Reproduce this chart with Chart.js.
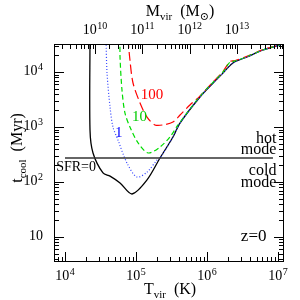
<!DOCTYPE html>
<html>
<head>
<meta charset="utf-8">
<script src="https://cdn.jsdelivr.net/npm/chart.js@4"></script>
<style>
  html, body { margin: 0; padding: 0; background: #fff; }
  #wrap { width: 300px; height: 300px; }
</style>
</head>
<body>
<div id="wrap"><canvas id="coolChart"></canvas></div>
<script>
// Cooling time vs virial temperature, z=0

// SFR = 0 (black solid)
const sfr0Temp = [2.25e4, 2.25e4, 2.48e4, 3.43e4, 4.31e4, 5.96e4, 8.79e4, 1.43e5, 2.18e5, 3.32e5, 4.17e5, 7.96e5, 1.22e6, 1.68e6, 2.32e6, 3.66e6, 6.15e6, 1.07e7];
const sfr0Tcool = [4.0e4, 880, 337, 146, 128, 96, 60.5, 109, 273, 658, 1180, 3510, 6310, 9550, 14600, 18750, 25100, 30900];

// SFR = 1 (blue dotted)
const sfr1Temp = [3.78e4, 3.91e4, 4.31e4, 4.74e4, 5.57e4, 7.46e4, 1.03e5, 1.43e5, 1.98e5, 2.18e5, 3.32e5, 4.17e5, 7.96e5, 1.22e6, 1.68e6, 2.32e6, 3.66e6, 6.15e6, 1.07e7];
const sfr1Tcool = [4.0e4, 9550, 2310, 1000, 581, 221, 123, 151, 251, 273, 658, 1180, 3510, 6310, 9550, 14600, 18750, 25100, 30900];

// SFR = 10 (green dashed)
const sfr10Temp = [5.96e4, 5.96e4, 6.35e4, 7.0e4, 8.22e4, 1.07e5, 1.48e5, 2.18e5, 3.01e5, 3.91e5, 7.96e5, 1.22e6, 1.68e6, 2.11e6, 2.45e6, 3.66e6, 6.15e6, 1.07e7];
const sfr10Tcool = [4.0e4, 18600, 4680, 1780, 1000, 513, 337, 432, 658, 1090, 3600, 6500, 10000, 15200, 15800, 19000, 25300, 31000];

// SFR = 100 (red long dashed)
const sfr100Temp = [7.71e4, 8.22e4, 9.08e4, 1.14e5, 1.43e5, 1.85e5, 2.40e5, 3.32e5, 4.17e5, 5.75e5, 7.96e5, 1.22e6, 1.68e6, 2.11e6, 2.45e6, 3.66e6, 6.15e6, 1.07e7];
const sfr100Tcool = [4.0e4, 16500, 6310, 2730, 1510, 1090, 1090, 1230, 1650, 2510, 3650, 6600, 10200, 15500, 16000, 19200, 25500, 31200];

// hot / cold mode divide
const divideTemp = [1.0e4, 8.5e6];
const divideTcool = [273, 273];

// axis ticks
const tempTicks = [1e4, 1e5, 1e6, 1e7];
const tcoolTicks = [10, 100, 1000, 10000];
const massTicks = [1e10, 1e11, 1e12, 1e13];

const SERIF = "'Liberation Serif', 'DejaVu Serif', serif";

function zip(xs, ys) {
  return xs.map((x, i) => ({ x: x, y: ys[i] }));
}

// draws "10" with a raised exponent, anchored by align at (x, y middle)
function drawPow(ctx, v, x, y, align) {
  const e = Math.round(Math.log10(v));
  const base = "10";
  const exp = e === 1 ? "" : String(e);
  ctx.font = "14px " + SERIF;
  const wb = ctx.measureText(base).width;
  ctx.font = "10px " + SERIF;
  const we = exp ? ctx.measureText(exp).width + 0.5 : 0;
  const w = wb + we;
  let x0 = x - w / 2;
  if (align === "right") x0 = x - w;
  ctx.textAlign = "left";
  ctx.textBaseline = "alphabetic";
  ctx.font = "14px " + SERIF;
  ctx.fillText(base, x0, y + 5);
  if (exp) {
    ctx.font = "10px " + SERIF;
    ctx.fillText(exp, x0 + wb + 0.5, y);
  }
}

// inward ticks, frame, tick labels and annotation text
const framePlugin = {
  id: "frame",
  afterDraw(chart) {
    const ctx = chart.ctx;
    const a = chart.chartArea;
    const xs = chart.scales.x;
    const ys = chart.scales.y;
    const ms = chart.scales.x2;
    ctx.save();
    ctx.strokeStyle = "#000";
    ctx.lineWidth = 1;
    ctx.strokeRect(a.left + 0.5, a.top + 0.5, a.right - a.left - 1, a.bottom - a.top - 1);

    function logTicks(scale, cb) {
      const lo = Math.floor(Math.log10(scale.min));
      const hi = Math.ceil(Math.log10(scale.max));
      for (let n = lo; n <= hi; n++) {
        for (let m = 1; m <= 9; m++) {
          const v = m * Math.pow(10, n);
          if (v < scale.min || v > scale.max) continue;
          cb(Math.round(scale.getPixelForValue(v)) + 0.5, m === 1 ? 10 : 5);
        }
      }
    }
    ctx.beginPath();
    logTicks(xs, (px, len) => {
      ctx.moveTo(px, a.bottom);
      ctx.lineTo(px, a.bottom - len);
    });
    logTicks(ms, (px, len) => {
      ctx.moveTo(px, a.top);
      ctx.lineTo(px, a.top + len);
    });
    logTicks(ys, (py, len) => {
      ctx.moveTo(a.left, py);
      ctx.lineTo(a.left + len, py);
      ctx.moveTo(a.right, py);
      ctx.lineTo(a.right - len, py);
    });
    ctx.stroke();

    // tick labels
    ctx.fillStyle = "#000";
    tempTicks.forEach((v) => drawPow(ctx, v, xs.getPixelForValue(v), a.bottom + 13, "center"));
    massTicks.forEach((v) => drawPow(ctx, v, ms.getPixelForValue(v), a.top - 15, "center"));
    tcoolTicks.forEach((v) => drawPow(ctx, v, a.left - 11, ys.getPixelForValue(v) - 2, "right"));

    // axis titles with sub/superscripts
    function titleRuns(runs, x, y) {
      let w = 0;
      runs.forEach((r) => {
        ctx.font = r[1] + "px " + SERIF;
        w += ctx.measureText(r[0]).width;
      });
      let cx = x - w / 2;
      runs.forEach((r) => {
        ctx.font = r[1] + "px " + SERIF;
        ctx.fillText(r[0], cx, y + r[2]);
        cx += ctx.measureText(r[0]).width;
      });
    }
    ctx.textBaseline = "alphabetic";
    ctx.textAlign = "left";
    titleRuns([["T", 16, 0], ["vir", 11, 4], ["  (K)", 16, 0]], 170, 294);
    titleRuns([["M", 16, 0], ["vir", 11, 4], ["  (M", 16, 0], ["⊙", 11, 4], [")", 16, 0]], 180, 16);
    ctx.save();
    ctx.translate(22, 148);
    ctx.rotate(-Math.PI / 2);
    titleRuns([["t", 16, 0], ["cool", 11, 4], ["  (Myr)", 16, 0]], 0, 0);
    ctx.restore();

    // curve labels
    function label(text, color, t, tc, size, align) {
      ctx.font = size + "px " + SERIF;
      ctx.fillStyle = color;
      ctx.textAlign = align;
      ctx.textBaseline = "middle";
      ctx.fillText(text, xs.getPixelForValue(t), ys.getPixelForValue(tc));
    }
    label("100", "#ff0000", 1.17e5, 3800, 15, "left");
    label("10", "#00cc00", 8.8e4, 1500, 15, "left");
    label("1", "#0000ff", 5.7e4, 760, 15, "center");
    label("SFR=0", "#000", 7.5e3, 185, 14, "left");
    label("hot", "#000", 9.5e6, 620, 16, "right");
    label("mode", "#000", 9.5e6, 385, 16, "right");
    label("cold", "#000", 9.5e6, 158, 16, "right");
    label("mode", "#000", 9.5e6, 95, 16, "right");
    label("z=0", "#000", 3.0e6, 10, 17, "left");
    ctx.restore();
  },
};

new Chart(document.getElementById("coolChart"), {
  type: "line",
  data: {
    datasets: [
      {
        label: "divide",
        data: zip(divideTemp, divideTcool),
        borderColor: "#333",
        borderWidth: 1.5,
        pointRadius: 0,
      },
      {
        label: "SFR=1",
        data: zip(sfr1Temp, sfr1Tcool),
        borderColor: "#3344ff",
        borderWidth: 1.2,
        borderDash: [1, 2],
        pointRadius: 0,
        tension: 0.3,
      },
      {
        label: "SFR=10",
        data: zip(sfr10Temp, sfr10Tcool),
        borderColor: "#00dd00",
        borderWidth: 1.2,
        borderDash: [5, 3],
        pointRadius: 0,
        tension: 0.3,
      },
      {
        label: "SFR=100",
        data: zip(sfr100Temp, sfr100Tcool),
        borderColor: "#ff0000",
        borderWidth: 1.2,
        borderDash: [9, 4],
        pointRadius: 0,
        tension: 0.3,
      },
      {
        label: "SFR=0",
        data: zip(sfr0Temp, sfr0Tcool),
        borderColor: "#000",
        borderWidth: 1.3,
        pointRadius: 0,
        tension: 0.3,
      },
    ],
  },
  options: {
    responsive: true,
    maintainAspectRatio: false,
    animation: false,
    layout: { padding: { left: 0, right: 16, top: 0, bottom: 0 } },
    plugins: {
      legend: { display: false },
      tooltip: { enabled: false },
    },
    scales: {
      x: {
        type: "logarithmic",
        position: "bottom",
        min: Math.pow(10, 3.845),
        max: Math.pow(10, 7.085),
        afterBuildTicks: (s) => { s.ticks = tempTicks.map((v) => ({ value: v })); },
        afterFit: (s) => { s.height = 38; },
        grid: { display: false, drawTicks: false },
        border: { display: false },
        ticks: { display: false },
      },
      x2: {
        type: "logarithmic",
        position: "top",
        min: Math.pow(10, 9.134),
        max: Math.pow(10, 13.993),
        afterBuildTicks: (s) => { s.ticks = massTicks.map((v) => ({ value: v })); },
        afterFit: (s) => { s.height = 44; },
        grid: { display: false, drawTicks: false },
        border: { display: false },
        ticks: { display: false },
      },
      y: {
        type: "logarithmic",
        min: Math.pow(10, 0.545),
        max: Math.pow(10, 4.509),
        afterBuildTicks: (s) => { s.ticks = tcoolTicks.map((v) => ({ value: v })); },
        afterFit: (s) => { s.width = 54; },
        grid: { display: false, drawTicks: false },
        border: { display: false },
        ticks: { display: false },
      },
    },
  },
  plugins: [framePlugin],
});
</script>
</body>
</html>
